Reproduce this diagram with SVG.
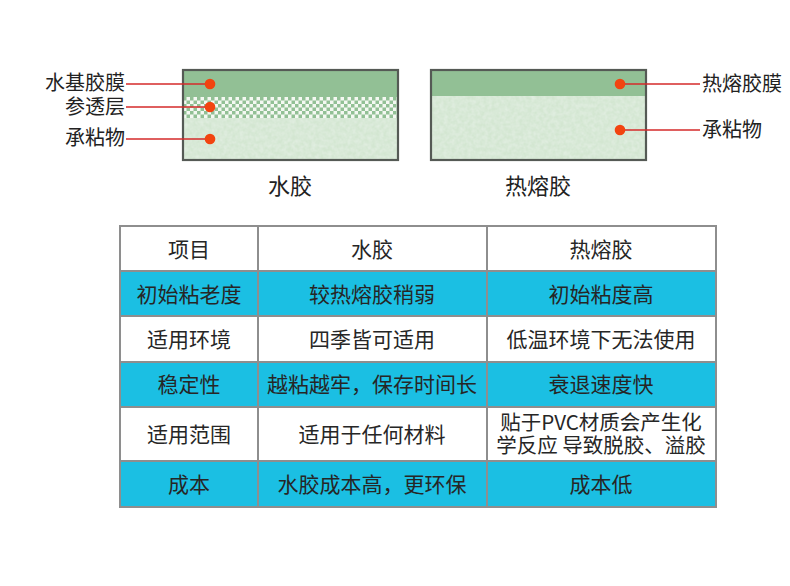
<svg xmlns="http://www.w3.org/2000/svg" width="790" height="586" viewBox="0 0 790 586">
<style>
.lbl{font-family:"Noto Sans CJK SC","Noto Sans",sans-serif;font-size:20px;fill:#222}
.cap{font-family:"Noto Sans CJK SC","Noto Sans",sans-serif;font-size:22px;fill:#222;text-anchor:middle}
.cell{font-family:"Noto Sans CJK SC","Noto Sans",sans-serif;font-size:21px;fill:#262626;text-anchor:middle}
.cell2{font-family:"Noto Sans CJK SC","Noto Sans",sans-serif;font-size:20.5px;fill:#262626;text-anchor:middle}
.lead{stroke:#d42a2a;stroke-width:1.3;fill:none}
.dot{fill:#f24410}
.frame{fill:none;stroke:#555a55;stroke-width:2.2}
.grid{stroke:#8e8e8e;stroke-width:2;fill:none}
.cyan{fill:#1bbfe3}
.white{fill:#ffffff}
</style>
<defs>
<pattern id="chk" x="183" y="97" width="7" height="7" patternUnits="userSpaceOnUse">
<rect width="7" height="7" fill="#f4f8f2"/>
<rect width="3.5" height="3.5" fill="#92c095"/>
<rect x="3.5" y="3.5" width="3.5" height="3.5" fill="#92c095"/>
</pattern>
<filter id="tex" x="0" y="0" width="1" height="1">
<feTurbulence type="fractalNoise" baseFrequency="0.25" numOctaves="2" seed="3" result="n"/>
<feColorMatrix in="n" type="matrix" values="0 0 0 0 0.78  0 0 0 0 0.87  0 0 0 0 0.78  0 0 0 -1.2 0.9" result="c"/>
<feComposite in="c" in2="SourceGraphic" operator="in" result="m"/>
<feMerge><feMergeNode in="SourceGraphic"/><feMergeNode in="m"/></feMerge>
</filter>
</defs>
<rect width="790" height="586" fill="#ffffff"/>

<g id="water-glue">
<rect x="183" y="70" width="215" height="27" fill="#92c095"/>
<rect x="183" y="97" width="215" height="21" fill="url(#chk)"/>
<rect x="183" y="118" width="215" height="42" fill="#d3e6d1" filter="url(#tex)"/>
<rect x="183" y="70" width="215" height="90" class="frame"/>
<text x="290" y="194" class="cap">水胶</text>
</g>

<g id="hotmelt-glue">
<rect x="431" y="70" width="215" height="26" fill="#92c095"/>
<rect x="431" y="96" width="215" height="64" fill="#d3e6d1" filter="url(#tex)"/>
<rect x="431" y="70" width="215" height="90" class="frame"/>
<text x="538" y="194" class="cap">热熔胶</text>
</g>

<g id="labels">
<text x="125" y="90" class="lbl" text-anchor="end">水基胶膜</text>
<text x="125" y="114" class="lbl" text-anchor="end">参透层</text>
<text x="125" y="145" class="lbl" text-anchor="end">承粘物</text>
<text x="702" y="91" class="lbl">热熔胶膜</text>
<text x="702" y="137" class="lbl">承粘物</text>
</g>

<g id="connectors">
<line x1="126" y1="84" x2="210" y2="84" class="lead"/>
<line x1="126" y1="107" x2="210" y2="107" class="lead"/>
<line x1="126" y1="139" x2="210" y2="139" class="lead"/>
<line x1="620" y1="84" x2="700" y2="84" class="lead"/>
<line x1="620" y1="130" x2="700" y2="130" class="lead"/>
<circle cx="210" cy="84" r="5.3" class="dot"/>
<circle cx="210" cy="107" r="5.3" class="dot"/>
<circle cx="210" cy="139" r="5.3" class="dot"/>
<circle cx="620" cy="84" r="5.3" class="dot"/>
<circle cx="620" cy="130" r="5.3" class="dot"/>
</g>

<g id="table">
<rect x="120" y="226" width="596" height="45" class="white"/>
<rect x="120" y="271" width="596" height="45" class="cyan"/>
<rect x="120" y="316" width="596" height="46" class="white"/>
<rect x="120" y="362" width="596" height="45" class="cyan"/>
<rect x="120" y="407" width="596" height="54" class="white"/>
<rect x="120" y="461" width="596" height="46" class="cyan"/>
<rect x="120" y="226" width="596" height="281" class="grid"/>
<line x1="258" y1="226" x2="258" y2="507" class="grid"/>
<line x1="487" y1="226" x2="487" y2="507" class="grid"/>
<line x1="120" y1="271" x2="716" y2="271" class="grid"/>
<line x1="120" y1="316" x2="716" y2="316" class="grid"/>
<line x1="120" y1="362" x2="716" y2="362" class="grid"/>
<line x1="120" y1="407" x2="716" y2="407" class="grid"/>
<line x1="120" y1="461" x2="716" y2="461" class="grid"/>

<text x="189" y="257" class="cell">项目</text>
<text x="372" y="257" class="cell">水胶</text>
<text x="601" y="257" class="cell">热熔胶</text>

<text x="189" y="302" class="cell">初始粘老度</text>
<text x="372" y="302" class="cell">较热熔胶稍弱</text>
<text x="601" y="302" class="cell">初始粘度高</text>

<text x="189" y="347" class="cell">适用环境</text>
<text x="372" y="347" class="cell">四季皆可适用</text>
<text x="601" y="347" class="cell">低温环境下无法使用</text>

<text x="189" y="392" class="cell">稳定性</text>
<text x="372" y="392" class="cell">越粘越牢，保存时间长</text>
<text x="601" y="392" class="cell">衰退速度快</text>

<text x="189" y="442" class="cell">适用范围</text>
<text x="372" y="442" class="cell">适用于任何材料</text>
<text x="601" y="430" class="cell2">贴于PVC材质会产生化</text>
<text x="601" y="453" class="cell2">学反应 导致脱胶、溢胶</text>

<text x="189" y="492" class="cell">成本</text>
<text x="372" y="492" class="cell">水胶成本高，更环保</text>
<text x="601" y="492" class="cell">成本低</text>
</g>
</svg>
